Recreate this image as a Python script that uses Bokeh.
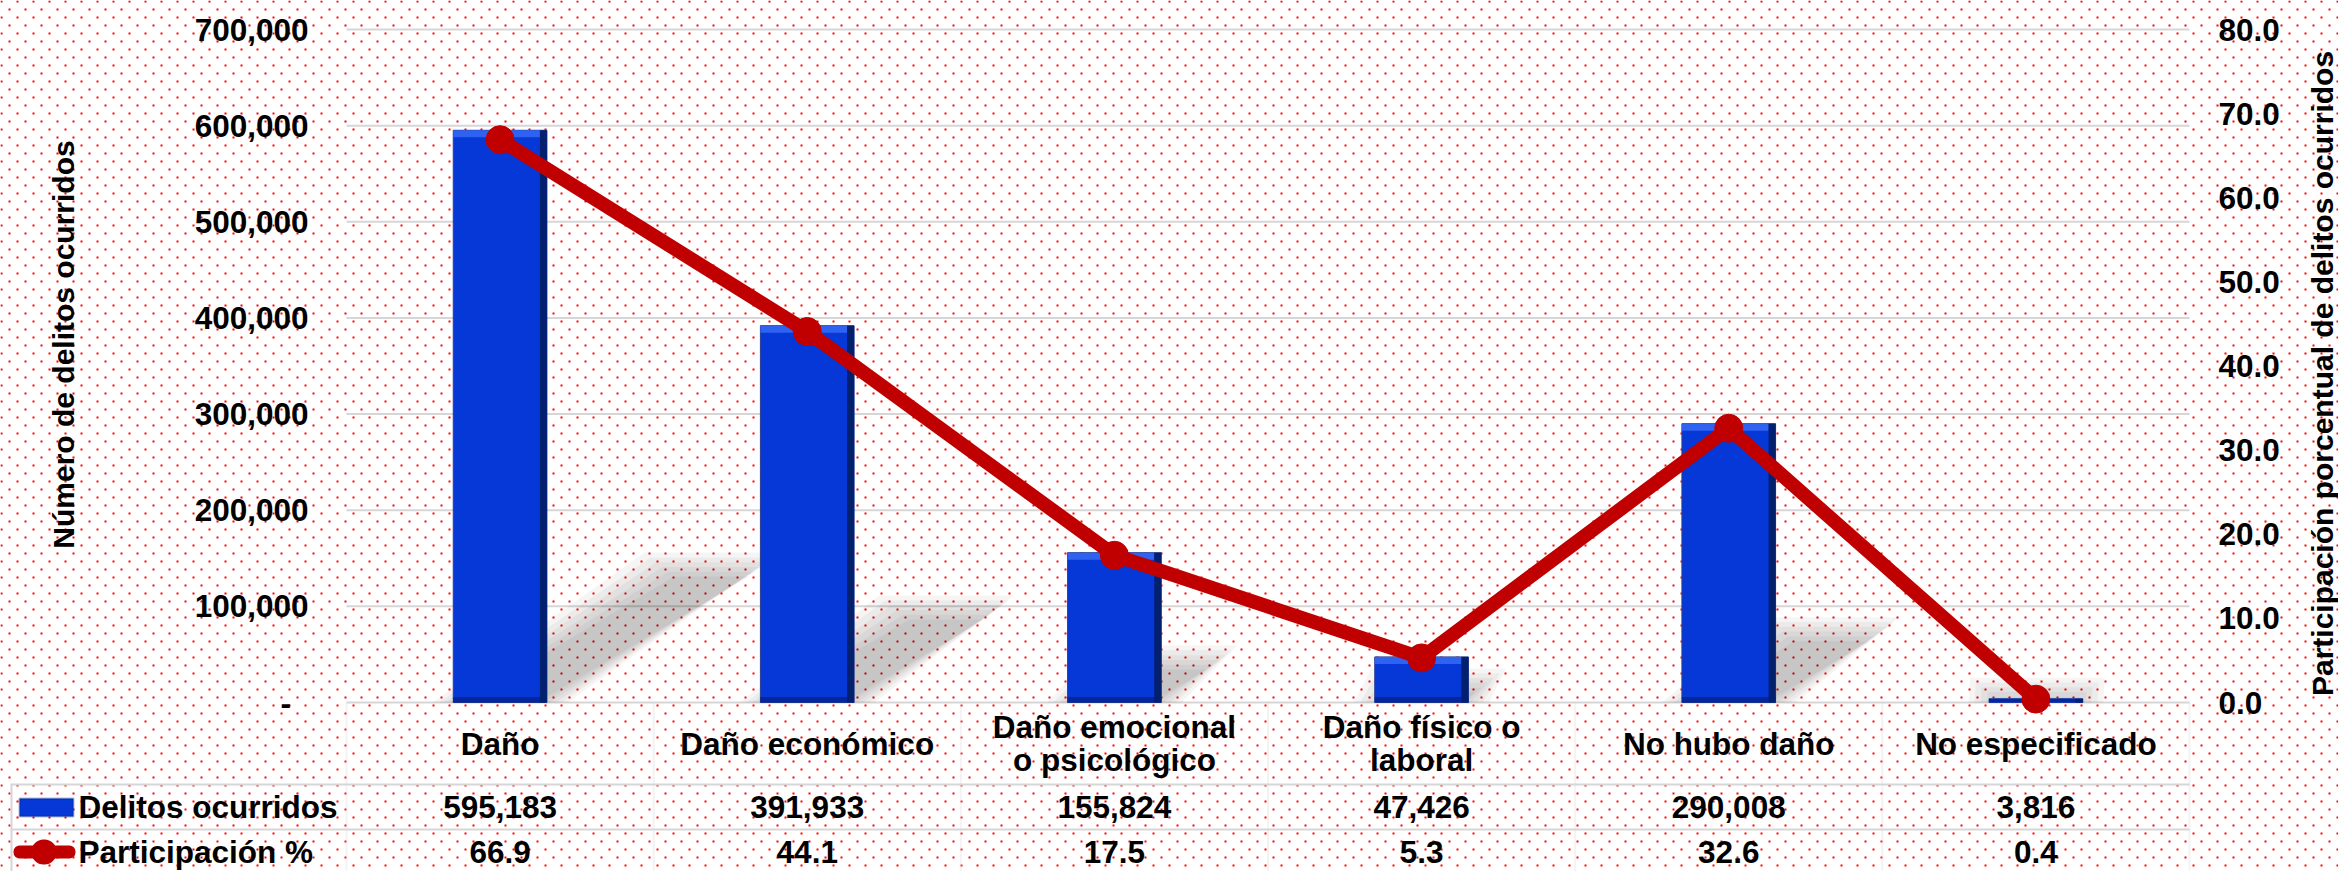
import math
import numpy as np
from bokeh.plotting import figure
from bokeh.models import (ColumnDataSource, Range1d, LabelSet, Label, BoxAnnotation,
                          LinearColorMapper)
from bokeh.core.properties import value
from bokeh.embed import file_html
from bokeh.resources import INLINE

# ---------------- data ----------------
categories = ["Daño", "Daño económico", "Daño emocional\no psicológico",
              "Daño físico o\nlaboral", "No hubo daño", "No especificado"]
delitos = [595183, 391933, 155824, 47426, 290008, 3816]
participacion = [66.9, 44.1, 17.5, 5.3, 32.6, 0.4]

left_ticks = [0, 100000, 200000, 300000, 400000, 500000, 600000, 700000]
left_tick_labels = ["-\u00a0\u00a0", "100,000", "200,000", "300,000", "400,000",
                    "500,000", "600,000", "700,000"]
right_ticks = [0, 10, 20, 30, 40, 50, 60, 70, 80]
right_tick_labels = ["0.0", "10.0", "20.0", "30.0", "40.0", "50.0", "60.0", "70.0", "80.0"]

series_names = ["Delitos ocurridos", "Participación %"]
title_left = "Número de delitos ocurridos"
title_right = "Participación porcentual de delitos ocurridos"

# ---------------- layout (page pixels) ----------------
W, H = 2338, 871
OFF = 0
FL, FR = 346, 2189          # plot area left / right
Y0, YTOP = 702, 29          # pixel of value 0 and of axis maximum
LMAX, RMAX = left_ticks[-1], right_ticks[-1]
n = len(categories)
CW = (FR - FL) / n
ppx_l = LMAX / (Y0 - YTOP)
ppx_r = RMAX / (Y0 - YTOP)

def sx(px):          # page x -> screen units (frame = whole canvas)
    return px - OFF

def sy(py):          # page y -> screen units (measured upwards from bottom)
    return OFF + H - py

FONT = "Liberation Sans"
FS = "31.5px"
BLUE = "#0538d6"
BLUE_DARK = "#03206f"
BLUE_BOT = "#06269a"
BLUE_LIGHT = "#2f62f0"
RED = "#c00000"
GRID = "#d6d6d6"
BAR_W = 0.305
BEV = 7  # px

x_range = Range1d((OFF - FL) / CW - 0.5, (OFF + W - FL) / CW - 0.5)
y_range = Range1d((Y0 - (OFF + H)) * ppx_l, (Y0 - OFF) * ppx_l)

p = figure(width=W, height=H, x_range=x_range, y_range=y_range,
           x_axis_location=None, y_axis_location=None,
           output_backend="svg", toolbar_location=None, min_border=0)
p.extra_y_ranges = {"pct": Range1d((Y0 - (OFF + H)) * ppx_r, (Y0 - OFF) * ppx_r)}
p.outline_line_color = None
p.background_fill_color = "white"
p.border_fill_color = "white"
p.grid.visible = False

# dotted background (texture)
yy, xx = np.mgrid[0:H, 0:W]
gx, gy = xx + OFF, yy + OFF
mask = (((gx % 16) < 2) & ((gy % 16) < 2)) | ((((gx + 8) % 16) < 2) & (((gy + 8) % 16) < 2))
tex = mask.astype(np.uint8)[::-1].copy()
p.image(image=[tex], x=x_range.start, y=y_range.start,
        dw=x_range.end - x_range.start, dh=y_range.end - y_range.start,
        color_mapper=LinearColorMapper(palette=["#ffffff", "#ff0000"], low=0, high=1),
        level="image")

lines = [c.split("\n") for c in categories]
cat1 = [l[0] for l in lines]
cat2 = [l[1] if len(l) > 1 else "" for l in lines]
cat1_y = [sy(743 - 16.5) if len(l) > 1 else sy(743) for l in lines]
cat2_y = [sy(743 + 16.5) for l in lines]

src = ColumnDataSource(dict(
    x=list(range(n)),
    cat1=cat1, cat2=cat2, cat1_y=cat1_y, cat2_y=cat2_y,
    delitos=delitos,
    pct=participacion,
    cnt=[f"{v:,}" for v in delitos],
    pct_s=[f"{v:.1f}" for v in participacion],
    x_right=[i + BAR_W / 2 - BEV / CW / 2 for i in range(n)],
    x_top=[i - BEV / CW / 2 for i in range(n)],
    top_b=[max(v - BEV * ppx_l, 0) for v in delitos],
    bot_t=[min(0.8 * BEV * ppx_l, v) for v in delitos],
))
lt_src = ColumnDataSource(dict(tick=left_ticks, label=left_tick_labels))
rt_src = ColumnDataSource(dict(tick=right_ticks, label=right_tick_labels))

# gridlines
p.segment(x0=-0.5, x1=n - 0.5, y0="tick", y1="tick", source=lt_src,
          line_color=GRID, line_width=2)

# soft cast shadows of the bars (derived from the bar heights), blurred by layering
for r in (30, 24, 18, 12, 6, 0):
    xs, ys = [], []
    for i, v in enumerate(delitos):
        hpx = v / ppx_l
        dxs = 0.37 * hpx / CW
        dys = 0.22 * v
        half = BAR_W / 2 * 0.8 + r / CW
        top = dys + r * ppx_l * 0.8
        xs.append([i - half, i + half, i + half + dxs, i - half + dxs])
        ys.append([0, 0, top, top])
    p.patches(xs=xs, ys=ys, fill_color="black", fill_alpha=0.04, line_alpha=0)

# bars with a simple bevel
p.vbar(x="x", top="delitos", bottom=0, width=BAR_W, source=src,
       fill_color=BLUE, line_color="#2a3f8f", line_width=1)
p.vbar(x="x_top", top="delitos", bottom="top_b", width=BAR_W - BEV / CW, source=src,
       fill_color=BLUE_LIGHT, line_alpha=0)
p.vbar(x="x", top="bot_t", bottom=0, width=BAR_W, source=src,
       fill_color=BLUE_BOT, line_alpha=0)
p.vbar(x="x_right", top="delitos", bottom=0, width=BEV / CW, source=src,
       fill_color=BLUE_DARK, line_alpha=0)

# line + markers
p.line(x="x", y="pct", source=src, y_range_name="pct", line_color=RED, line_width=14,
       line_join="round", line_cap="round")
p.scatter(x="x", y="pct", source=src, y_range_name="pct", size=28,
          fill_color=RED, line_color=RED)

# axis tick labels
tick_txt = dict(text_font=value(FONT), text_font_style="bold", text_font_size=FS,
                text_color="black", text_baseline="middle")
p.add_layout(LabelSet(x=sx(308), x_units="screen", y="tick", text="label", source=lt_src,
                      text_align="right", **tick_txt))
p.add_layout(LabelSet(x=sx(2218), x_units="screen", y="tick", y_range_name="pct", text="label",
                      source=rt_src, text_align="left", **tick_txt))

# ---------------- data table below ----------------
txt = dict(text_font=value(FONT), text_font_style="bold", text_font_size=FS,
           text_color="black", text_align="center", text_baseline="middle")
p.add_layout(LabelSet(x="x", y="cat1_y", y_units="screen", text="cat1", source=src, **txt))
p.add_layout(LabelSet(x="x", y="cat2_y", y_units="screen", text="cat2", source=src, **txt))
p.add_layout(LabelSet(x="x", y=sy(806), y_units="screen", text="cnt", source=src, **txt))
p.add_layout(LabelSet(x="x", y=sy(851), y_units="screen", text="pct_s", source=src, **txt))

lbl = dict(x_units="screen", y_units="screen", text_font=FONT, text_font_style="bold",
           text_font_size=FS, text_color="black", text_baseline="middle")
p.add_layout(Label(x=sx(78), y=sy(806), text=series_names[0], text_align="left", **lbl))
p.add_layout(Label(x=sx(78), y=sy(851), text=series_names[1], text_align="left", **lbl))

# legend keys
scr = dict(left_units="screen", right_units="screen", top_units="screen", bottom_units="screen")
p.add_layout(BoxAnnotation(left=sx(19), right=sx(73), top=sy(798), bottom=sy(816),
                           fill_color=BLUE, fill_alpha=1, line_color=BLUE_DARK, line_width=2, **scr))
p.add_layout(BoxAnnotation(left=sx(13), right=sx(75), top=sy(845), bottom=sy(858),
                           border_radius=6, fill_color=RED, fill_alpha=1, line_alpha=0, **scr))
p.add_layout(BoxAnnotation(left=sx(31), right=sx(56), top=sy(839), bottom=sy(864),
                           border_radius=12, fill_color=RED, fill_alpha=1, line_alpha=0, **scr))

# table rules
for py in (784, 829):
    p.add_layout(BoxAnnotation(left=sx(10), left_units="screen", right=n - 0.5, right_units="data",
                               top=sy(py - 1), bottom=sy(py + 1), top_units="screen", bottom_units="screen",
                               fill_color=GRID, fill_alpha=1, line_alpha=0))
for k in range(n + 1):
    p.add_layout(BoxAnnotation(left=k - 0.5, right=k - 0.5, left_units="data", right_units="data",
                               top=sy(702), bottom=sy(900), top_units="screen", bottom_units="screen",
                               fill_alpha=0, line_color=GRID, line_width=2))
p.add_layout(BoxAnnotation(left=sx(10), right=sx(12), top=sy(784), bottom=sy(900),
                           fill_color=GRID, fill_alpha=1, line_alpha=0, **scr))

# axis titles
ttl = dict(x_units="screen", y_units="screen", text_font=FONT, text_font_style="bold",
           text_font_size="30px", text_color="black", text_align="center",
           text_baseline="middle", angle=math.pi / 2)
p.add_layout(Label(x=sx(63), y=sy(344), text=title_left, **ttl))
p.add_layout(Label(x=sx(2322), y=sy(373), text=title_right, **ttl))

open("out.html", "w").write(file_html(p, INLINE))
